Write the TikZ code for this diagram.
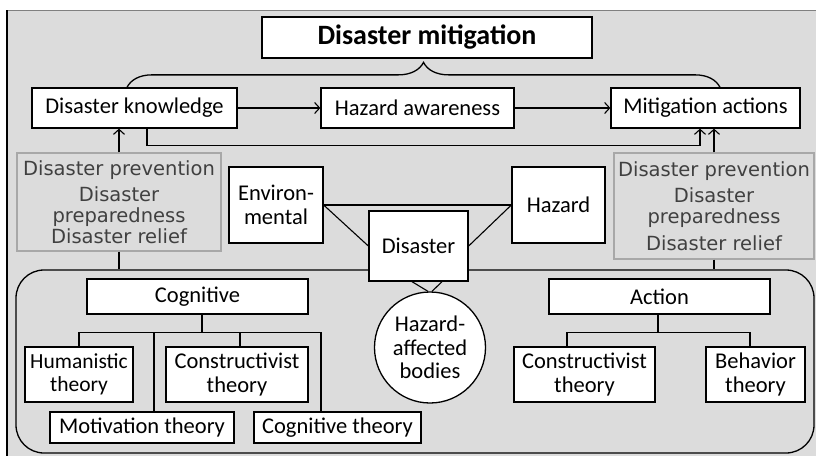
\documentclass[tikz,border=0pt]{standalone}
\usepackage{fontspec}
\setmainfont{Carlito}
\newfontfamily\grayfont{DejaVu Sans}
\usepackage{tikz}
\usetikzlibrary{arrows.meta,calc,decorations.pathreplacing}
\definecolor{panelgray}{HTML}{DCDCDC}
\definecolor{edgegray}{HTML}{A8A8A8}
\definecolor{textgray}{HTML}{404040}
\begin{document}
\begin{tikzpicture}[
    x=1pt, y=-1pt,
    box/.style={draw, fill=white, line width=1.3pt, inner sep=0pt, align=center, font=\fontsize{22.5}{23.5}\selectfont},
    stage/.style={draw=edgegray, line width=1.3pt, inner sep=0pt, align=center, text=textgray, font=\grayfont\fontsize{19.5}{21}\selectfont},
    flow/.style={-{Straight Barb[length=5pt,width=11pt]}, line width=1.1pt},
    link/.style={line width=1.1pt}
]
\useasboundingbox (0,0) rectangle (816,456);
\fill[panelgray] (7,10) rectangle (816,456);
\draw[gray, line width=1pt] (7,10) -- (816,10);
\draw[line width=1.5pt] (7,10) -- (7,456);

\node[draw, line width=1.3pt, rounded corners=28pt, minimum width=798pt, minimum height=183pt] (frame) at (415,361.5) {};

\node[box, minimum width=330pt, minimum height=41pt, font=\bfseries\fontsize{28}{30}\selectfont] (dm) at (427,37.5) {Disaster mitigation};
\node[box, minimum width=205pt, minimum height=40pt] (dk) at (134.5,108) {Disaster knowledge};
\node[box, minimum width=193pt, minimum height=40pt] (ha) at (417.5,108) {Hazard awareness};
\node[box, minimum width=189pt, minimum height=40pt] (ma) at (705.5,108) {Mitigation actions};

\node[stage, minimum width=204pt, minimum height=98pt] (lp) at (119,202) {Disaster prevention\\[5pt]Disaster\\preparedness\\Disaster relief};
\node[stage, minimum width=200pt, minimum height=106pt] (rp) at (714,206) {Disaster prevention\\[5pt]Disaster\\preparedness\\[6pt]Disaster relief};

\node[box, minimum width=94pt, minimum height=76pt] (env) at (276,205) {Environ-\\mental};
\node[box, minimum width=93pt, minimum height=76pt] (haz) at (558.5,205) {Hazard};
\node[box, minimum width=99pt, minimum height=70pt] (dis) at (418.5,246) {Disaster};
\node[box, circle, minimum size=111pt] (hab) at (430,347.5) {Hazard-\\affected\\bodies};

\node[box, minimum width=221pt, minimum height=35pt] (cog) at (197.5,296.5) {Cognitive};
\node[box, minimum width=221pt, minimum height=35pt] (act) at (659.5,296.5) {Action};
\node[box, minimum width=108pt, minimum height=55pt, font=\fontsize{21.5}{23.5}\selectfont] (hum) at (79,374.5) {Humanistic\\theory};
\node[box, minimum width=142pt, minimum height=55pt] (conl) at (237,374.5) {Constructivist\\theory};
\node[box, minimum width=184pt, minimum height=31pt] (mot) at (142,427.5) {Motivation theory};
\node[box, minimum width=167pt, minimum height=31pt] (cogt) at (337.5,427.5) {Cognitive theory};
\node[box, minimum width=141pt, minimum height=55pt] (conr) at (584.5,374.5) {Constructivist\\theory};
\node[box, minimum width=99pt, minimum height=55pt] (beh) at (755.5,374.5) {Behavior\\theory};

\draw[line width=1.3pt, decorate, decoration={brace, amplitude=25pt}] ([xshift=-7.5pt]dk.north) -- ([xshift=14.5pt]ma.north);

\draw[flow] (dk) -- (ha);
\draw[flow] (ha) -- (ma);
\draw[flow] ([xshift=12.5pt]dk.south) |- ++(0,17) -| ([xshift=-5.5pt]ma.south);
\draw[flow] (lp.north) -- (lp.north |- dk.south);
\draw[flow] (rp.north) -- (rp.north |- ma.south);
\draw[link] (lp.south) -- (lp.south |- frame.north);
\draw[link] (rp.south) -- (rp.south |- frame.north);

\draw[link] (env.east) -- (haz.west);
\draw[link] (env.east) -- (dis.west);
\draw[link] (haz.west) -- (dis.east);
\draw[link] ([xshift=-6.5pt]dis.south) -- ([xshift=-2pt]hab.north);
\draw[link] ([xshift=23.5pt]dis.south) -- ([xshift=2pt]hab.north);

\coordinate (cj) at ($(cog.south)+(4.5,18)$);
\draw[link] ([xshift=4.5pt]cog.south) -- (cj);
\draw[link] (hum.north) |- ([xshift=-16.5pt]cogt.north |- cj) -- ([xshift=-16.5pt]cogt.north);
\draw[link] ([xshift=12pt]mot.north) -- ([xshift=12pt]mot.north |- cj);
\draw[link] ([xshift=3pt]conl.north) -- ([xshift=3pt]conl.north |- cj);

\coordinate (aj) at ($(act.south)+(-1.5,18)$);
\draw[link] ([xshift=-1.5pt]act.south) -- (aj);
\draw[link] ([xshift=-17.5pt]conr.north) |- ([xshift=-5.5pt]beh.north |- aj) -- ([xshift=-5.5pt]beh.north);
\end{tikzpicture}
\end{document}
